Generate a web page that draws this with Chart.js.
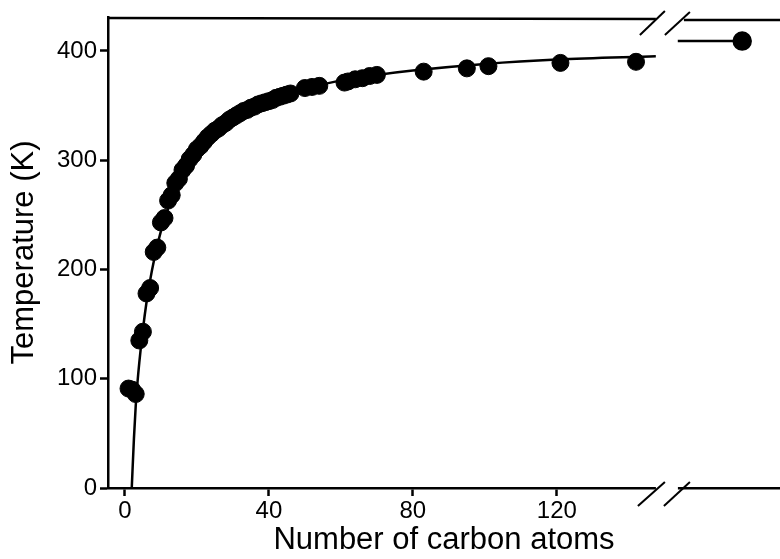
<!DOCTYPE html>
<html>
<head>
<meta charset="utf-8">
<style>
  html, body { margin: 0; padding: 0; background: #fff; overflow: hidden; }
  #box { width: 780px; height: 559px; position: relative; }
  canvas { display: block; }
</style>
</head>
<body>
<div id="box"><canvas id="chart"></canvas></div>
<script src="https://cdn.jsdelivr.net/npm/chart.js"></script>
<script>
    // data: n-alkane melting points
    var carbonN = [1, 2, 3, 4, 5, 6, 7, 8, 9, 10, 11, 12, 13, 14, 15, 16, 17, 18, 19, 20,
        21, 22, 23, 24, 25, 26, 27, 28, 29, 30, 31, 32, 33, 34, 35, 36, 37, 38, 39, 40,
        41, 42, 43, 44, 45, 46, 50, 52, 54, 61, 62, 64, 66, 68, 70, 83, 95, 101, 121, 142];
    var meltT = [91, 90, 86, 135, 143, 178, 183, 216, 220, 243, 247, 263, 268, 279, 283, 291, 295, 301, 305, 310,
        313, 317, 321, 324, 327, 329, 332, 334, 337, 339, 341, 343, 345, 346, 348, 349, 351, 352, 353, 354,
        355, 357, 358, 359, 360, 361, 366, 367, 368, 371, 372, 374, 375, 377, 378, 381, 384, 386, 389, 390];

    // fitted curve
    var curveN = [1.9, 2.5, 3, 3.5, 4, 5, 6, 7, 8, 10, 12, 15, 20, 25, 30, 40, 50, 60, 70, 80, 100, 120, 147.5];
    var curveT = [0, 45, 75, 97, 115, 145, 170, 190, 207, 235, 256, 280, 307, 324, 337, 354, 365, 373, 378, 382, 388, 392, 395];

    // point beyond the axis break (polyethylene)
    var limitN = [153.6, 171.5];
    var limitT = [409, 409];

    var xTicks = [0, 40, 80, 120];
    var yTicks = [0, 100, 200, 300, 400];
    var breakAt = 150.3;

    function pts(xs, ys) {
        return xs.map(function (x, i) { return { x: x, y: ys[i] }; });
    }

    Chart.defaults.font.family = '"Liberation Sans", Arial, sans-serif';
    Chart.defaults.color = '#000';

    // top frame line and the // break marks
    var breakPlugin = {
        id: 'axisBreak',
        afterDraw: function (chart) {
            var c = chart.ctx, a = chart.chartArea;
            var xs = chart.scales.x;
            var bx = xs.getPixelForValue(breakAt);
            c.save();
            c.strokeStyle = '#000';
            c.lineWidth = 2.5;
            // top line
            c.beginPath();
            c.moveTo(a.left - 1, a.top + 1);
            c.lineTo(bx - 10, a.top + 2);
            c.moveTo(bx + 18, a.top + 3);
            c.lineTo(a.right, a.top + 3);
            c.stroke();
            // erase bottom axis in the gap
            c.fillStyle = '#fff';
            c.fillRect(bx - 10, a.bottom - 3, 22, 6);
            // slashes
            c.lineWidth = 2;
            [[-26, a.top + 18, -1, a.top - 6], [-1, a.top + 18, 24, a.top - 5],
             [-28, a.bottom + 18, -1, a.bottom - 6], [-2, a.bottom + 18, 24, a.bottom - 6]].forEach(function (s) {
                c.beginPath();
                c.moveTo(bx + s[0], s[1]);
                c.lineTo(bx + s[2], s[3]);
                c.stroke();
            });
            c.restore();
        }
    };

    var ctx = document.getElementById('chart').getContext('2d');
    var myChart = new Chart(ctx, {
        type: 'scatter',
        data: {
            datasets: [{
                data: pts(curveN, curveT),
                showLine: true,
                borderColor: '#000',
                borderWidth: 2.5,
                pointRadius: 0,
                cubicInterpolationMode: 'monotone'
            }, {
                data: pts(carbonN, meltT),
                backgroundColor: '#000',
                borderColor: '#000',
                pointRadius: 8.5,
                pointHoverRadius: 8.5
            }, {
                data: pts(limitN, limitT),
                showLine: true,
                borderColor: '#000',
                borderWidth: 2.5,
                backgroundColor: '#000',
                pointRadius: [0, 8.5]
            }]
        },
        options: {
            responsive: true,
            maintainAspectRatio: false,
            animation: false,
            layout: { autoPadding: false, padding: { top: 17, right: 0, left: 0, bottom: 0 } },
            plugins: { legend: { display: false }, tooltip: { enabled: false } },
            scales: {
                x: {
                    type: 'linear',
                    min: -4.7,
                    max: 182,
                    afterBuildTicks: function (s) { s.ticks = xTicks.map(function (v) { return { value: v }; }); },
                    afterFit: function (s) { s.height = 71; s.paddingLeft = 0; s.paddingRight = 0; },
                    grid: { display: true, drawOnChartArea: false, tickLength: 8, tickWidth: 2.5, color: '#000' },
                    border: { display: true, color: '#000', width: 2.5 },
                    ticks: { font: { size: 24 }, padding: 1, maxRotation: 0 },
                    title: { display: true, text: 'Number of carbon atoms', font: { size: 31 }, padding: { top: 0, bottom: 0 } }
                },
                y: {
                    min: 0,
                    max: 431,
                    afterBuildTicks: function (s) { s.ticks = yTicks.map(function (v) { return { value: v }; }); },
                    afterFit: function (s) { s.width = 108; s.paddingTop = 0; s.paddingBottom = 0; },
                    grid: { display: true, drawOnChartArea: false, tickLength: 8, tickWidth: 2.5, color: '#000' },
                    border: { display: true, color: '#000', width: 2.5 },
                    ticks: { font: { size: 24 }, padding: 3 },
                    title: { display: true, text: 'Temperature (K)', font: { size: 31 }, padding: { top: 6, bottom: 0 } }
                }
            }
        },
        plugins: [breakPlugin]
    });
</script>
</body>
</html>
